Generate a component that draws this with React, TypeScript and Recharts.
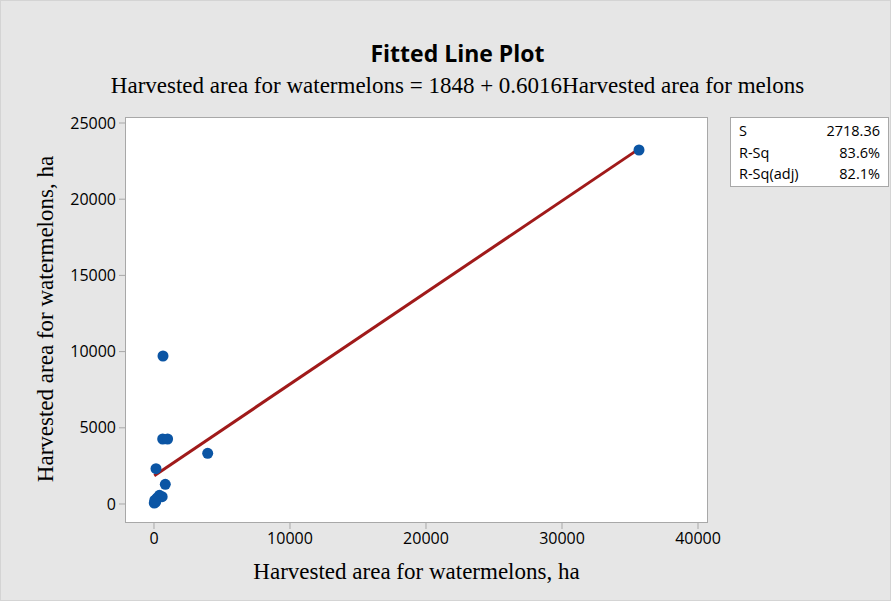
import { ScatterChart, Scatter, XAxis, YAxis, ReferenceLine } from "recharts";

const melons = [35662, 662, 640, 1000, 3948, 147, 831, 400, 230, 120, 600, 20, 60];
const watermelons = [23228, 9711, 4265, 4265, 3327, 2316, 1293, 570, 400, 120, 480, 60, 250];
const xTicks = [0, 10000, 20000, 30000, 40000];
const yTicks = [0, 5000, 10000, 15000, 20000, 25000];
const intercept = 1848;
const slope = 0.6016;
const stats = [
  { name: "S", value: "2718.36" },
  { name: "R-Sq", value: "83.6%" },
  { name: "R-Sq(adj)", value: "82.1%" },
];

const points = melons.map((m, i) => ({ x: m, y: watermelons[i] }));
const xMin = Math.min(...melons);
const xMax = Math.max(...melons);

const sans = "'Open Sans', 'Noto Sans', sans-serif";
const serif = "'Liberation Serif', 'Times New Roman', serif";

function Dot(props: any) {
  return <circle cx={props.cx} cy={props.cy} r={5.5} fill="#0b55a4" />;
}

export default function App() {
  return (
    <div
      style={{
        position: "absolute",
        left: 0,
        top: 0,
        width: 891,
        height: 601,
        background: "#e6e6e6",
        boxSizing: "border-box",
        border: "1px solid #d4d4d4",
        overflow: "hidden",
      }}
    >
      <div
        style={{
          position: "absolute",
          left: 124,
          top: 116,
          width: 583,
          height: 406,
          background: "#fff",
          boxSizing: "border-box",
          border: "1px solid #a8a8a8",
        }}
      />
      <div
        style={{
          position: "absolute",
          left: 0,
          width: 891,
          top: 36,
          textAlign: "center",
          fontFamily: sans,
          fontWeight: 700,
          fontSize: 23,
          paddingLeft: 22,
          boxSizing: "border-box",
        }}
      >
        Fitted Line Plot
      </div>
      <div
        style={{
          position: "absolute",
          left: 0,
          width: 891,
          top: 72,
          textAlign: "center",
          fontFamily: serif,
          fontSize: 23,
          paddingLeft: 22,
          boxSizing: "border-box",
          whiteSpace: "nowrap",
        }}
      >
        Harvested area for watermelons = 1848 + 0.6016Harvested area for melons
      </div>
      <div
        style={{
          position: "absolute",
          left: 124,
          width: 583,
          top: 558,
          textAlign: "center",
          fontFamily: serif,
          fontSize: 23,
        }}
      >
        Harvested area for watermelons, ha
      </div>
      <div
        style={{
          position: "absolute",
          left: 45,
          top: 318,
          transform: "translate(-50%, -50%) rotate(-90deg)",
          whiteSpace: "nowrap",
          fontFamily: serif,
          fontSize: 23,
        }}
      >
        Harvested area for watermelons, ha
      </div>
      <div
        style={{
          position: "absolute",
          left: 729,
          top: 116,
          width: 159,
          height: 70,
          background: "#fff",
          boxSizing: "border-box",
          border: "1px solid #a8a8a8",
          padding: "2px 8px",
          fontFamily: sans,
          fontSize: 14.5,
          lineHeight: "21.5px",
        }}
      >
        {stats.map((s) => (
          <div key={s.name} style={{ display: "flex", justifyContent: "space-between" }}>
            <span>{s.name}</span>
            <span>{s.value}</span>
          </div>
        ))}
      </div>
      <div style={{ position: "absolute", left: 0, top: 0 }}>
        <ScatterChart
          width={891}
          height={601}
          margin={{ top: 116, right: 184, bottom: 39, left: 0 }}
        >
          <XAxis
            type="number"
            dataKey="x"
            domain={[-2132, 40735]}
            ticks={xTicks}
            allowDataOverflow
            height={40}
            axisLine={false}
            tickLine={{ stroke: "#a8a8a8" }}
            tickSize={6}
            tickMargin={4}
            tick={{ fill: "#000", fontFamily: sans, fontSize: 16 }}
          />
          <YAxis
            type="number"
            dataKey="y"
            domain={[-1247, 25394]}
            ticks={yTicks}
            allowDataOverflow
            width={124}
            axisLine={false}
            tickLine={{ stroke: "#a8a8a8" }}
            tickSize={6}
            tickMargin={3}
            tick={{ fill: "#000", fontFamily: sans, fontSize: 16 }}
          />
          <ReferenceLine
            segment={[
              { x: xMin, y: intercept + slope * xMin },
              { x: xMax, y: intercept + slope * xMax },
            ]}
            stroke="#a01a1a"
            strokeWidth={3}
          />
          <Scatter data={points} shape={<Dot />} isAnimationActive={false} />
        </ScatterChart>
      </div>
    </div>
  );
}
